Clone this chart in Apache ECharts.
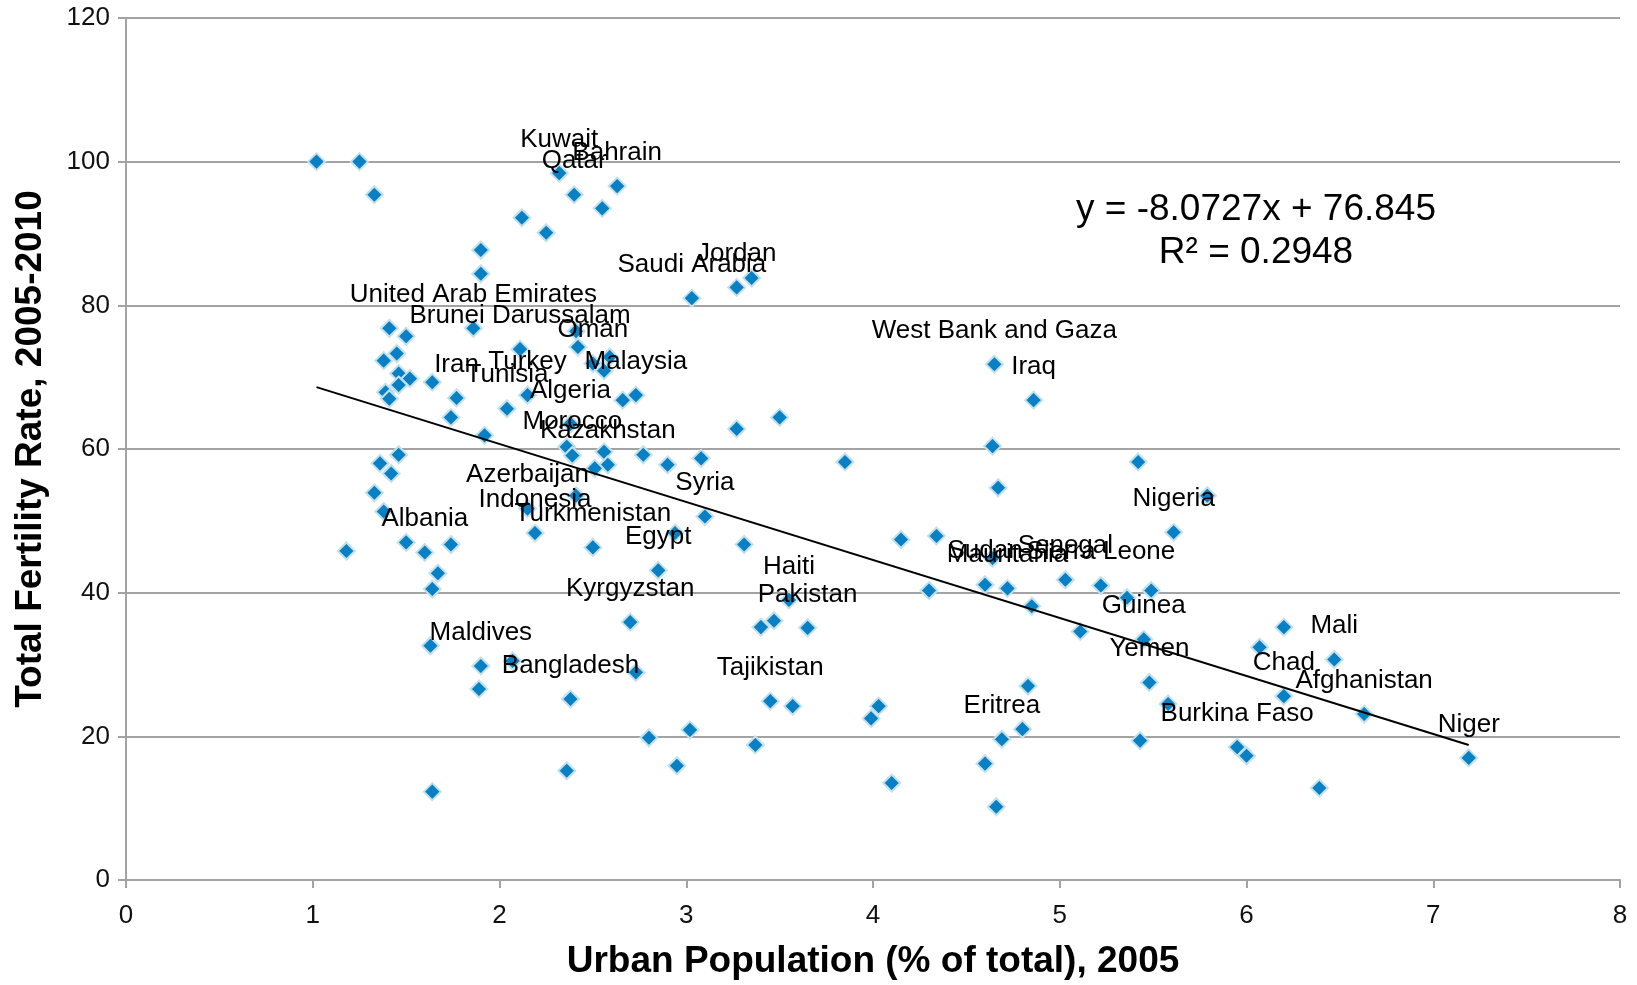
<!DOCTYPE html>
<html>
<head>
<meta charset="utf-8">
<title>Urban Population vs Total Fertility Rate</title>
<script src="https://cdn.jsdelivr.net/npm/echarts/dist/echarts.min.js"></script>
<style>
  html, body { margin: 0; padding: 0; background: #ffffff; }
  #chart { width: 1637px; height: 985px; }
</style>
</head>
<body>
<div id="chart"></div>
<script>
// Urban population (x) per country
const urbanPop = [
  1.02, 1.25, 1.33, 2.32, 2.63, 2.40, 2.55, 2.12, 2.25, 1.90,
  1.90, 3.03, 3.27, 3.35, 1.86, 1.41, 1.50, 2.11, 2.41, 2.42,
  2.50, 2.56, 2.59, 1.45, 1.38, 1.46, 1.52, 1.46, 1.39, 1.41,
  1.64, 1.77, 2.15, 2.04, 2.66, 2.73, 1.74, 1.92, 2.38, 2.36,
  2.39, 2.56, 2.58, 2.51, 2.77, 2.90, 3.08, 3.27, 3.50, 3.85,
  1.46, 1.36, 1.42, 1.33, 1.38, 1.18, 1.50, 1.60, 1.74, 1.67,
  1.64, 2.41, 2.15, 2.19, 2.50, 3.10, 2.94, 2.85, 3.31, 2.70,
  1.63, 1.90, 1.89, 2.07, 2.38, 2.73, 1.64, 2.80, 3.02, 2.36,
  2.95, 3.55, 3.40, 3.47, 3.65, 3.45, 3.57, 4.03, 3.99, 3.37,
  4.10, 4.15, 4.34, 4.30, 4.64, 4.60, 4.72, 4.65, 4.86, 4.64,
  4.67, 4.85, 5.03, 5.22, 5.11, 4.83, 4.69, 4.80, 4.60, 4.66,
  5.42, 5.61, 5.79, 5.36, 5.49, 5.45, 5.48, 5.58, 5.43, 5.95,
  6.00, 6.20, 6.07, 6.47, 6.20, 6.63, 6.39, 7.19
];

// Total fertility rate (y) per country
const fertility = [
  100.0, 100.0, 95.4, 98.4, 96.6, 95.4, 93.5, 92.2, 90.1, 87.7,
  84.4, 81.0, 82.5, 83.8, 76.8, 76.8, 75.7, 73.9, 76.4, 74.2,
  71.9, 70.9, 72.8, 73.3, 72.3, 70.5, 69.8, 68.9, 67.9, 67.0,
  69.3, 67.1, 67.5, 65.6, 66.8, 67.5, 64.4, 61.9, 63.5, 60.3,
  59.1, 59.6, 57.8, 57.3, 59.2, 57.8, 58.7, 62.8, 64.4, 58.2,
  59.2, 58.0, 56.6, 53.9, 51.3, 45.8, 47.0, 45.6, 46.7, 42.7,
  40.5, 53.5, 51.7, 48.3, 46.3, 50.6, 48.3, 43.1, 46.7, 35.9,
  32.6, 29.8, 26.6, 30.5, 25.2, 28.9, 12.3, 19.8, 20.9, 15.2,
  15.9, 39.0, 35.2, 36.1, 35.1, 24.9, 24.2, 24.2, 22.5, 18.8,
  13.5, 47.4, 47.9, 40.3, 44.8, 41.1, 40.6, 71.8, 66.8, 60.4,
  54.6, 38.1, 41.8, 41.0, 34.6, 27.0, 19.6, 21.0, 16.2, 10.2,
  58.2, 48.4, 53.5, 39.3, 40.3, 33.5, 27.5, 24.5, 19.4, 18.5,
  17.3, 35.2, 32.4, 30.7, 25.6, 23.1, 12.8, 17.0
];

// Country names (empty string = point drawn without a name)
const countries = [
  '', '', '', 'Kuwait', 'Bahrain', 'Qatar', '', '', '', '',
  '', 'Saudi Arabia', 'Jordan', '', 'United Arab Emirates', '', '', 'Brunei Darussalam', '', '',
  'Oman', '', '', '', '', '', '', '', '', '',
  '', 'Iran', 'Turkey', 'Tunisia', '', 'Malaysia', '', '', 'Algeria', '',
  'Morocco', '', 'Kazakhstan', '', '', '', '', '', '', '',
  '', '', '', '', '', '', '', 'Albania', '', '',
  '', '', 'Azerbaijan', 'Indonesia', 'Turkmenistan', 'Syria', '', 'Egypt', '', 'Kyrgyzstan',
  '', 'Maldives', '', '', 'Bangladesh', '', '', '', '', '',
  '', 'Haiti', '', '', 'Pakistan', 'Tajikistan', '', '', '', '',
  '', '', '', '', '', 'Sudan', 'Mauritania', 'West Bank and Gaza', 'Iraq', '',
  '', '', 'Senegal', 'Sierra Leone', '', '', 'Eritrea', '', '', '',
  '', 'Nigeria', '', '', '', 'Guinea', 'Yemen', '', '', 'Burkina Faso',
  '', '', '', 'Mali', 'Chad', 'Afghanistan', '', 'Niger'
];

// Linear trend fitted to the data
const trendSlope = -8.0727;
const trendIntercept = 76.845;
const rSquared = 0.2948;

// Axis ranges and tick steps
const xTicks = { min: 0, max: 8, step: 1 };
const yTicks = { min: 0, max: 120, step: 20 };

const FONT = '"Liberation Sans", Arial, Helvetica, sans-serif';
const GRID_GRAY = '#a3a3a3';

const points = urbanPop.map((x, i) => ({
  value: [x, fertility[i]],
  name: countries[i],
  label: { show: countries[i] !== '' }
}));

const xMin = Math.min(...urbanPop);
const xMax = Math.max(...urbanPop);
const trendPoints = [
  [xMin, trendSlope * xMin + trendIntercept],
  [xMax, trendSlope * xMax + trendIntercept]
];

const slopeText = (trendSlope < 0 ? '-' : '') + Math.abs(trendSlope).toFixed(4);
const equationText = 'y = ' + slopeText + 'x + ' + trendIntercept.toFixed(3) +
  '\nR\u00b2 = ' + rSquared.toFixed(4);

const chart = echarts.init(document.getElementById('chart'), null, { renderer: 'canvas' });

chart.setOption({
  animation: false,
  backgroundColor: '#ffffff',
  textStyle: { fontFamily: FONT },
  grid: { left: 126, right: 17, top: 18, bottom: 100, containLabel: false },
  xAxis: {
    type: 'value',
    min: xTicks.min, max: xTicks.max, interval: xTicks.step,
    name: 'Urban Population (% of total), 2005',
    nameLocation: 'middle',
    nameGap: 63,
    nameTextStyle: { fontFamily: FONT, fontSize: 37, fontWeight: 'bold', color: '#000' },
    axisLine: { show: true, lineStyle: { color: GRID_GRAY, width: 2 } },
    axisTick: { show: true, length: 8, lineStyle: { color: GRID_GRAY, width: 2 } },
    axisLabel: { fontFamily: FONT, fontSize: 26, color: '#111', margin: 23 },
    splitLine: { show: false }
  },
  yAxis: {
    type: 'value',
    min: yTicks.min, max: yTicks.max, interval: yTicks.step,
    name: 'Total Fertility Rate, 2005-2010',
    nameLocation: 'middle',
    nameRotate: 90,
    nameGap: 77,
    nameTextStyle: { fontFamily: FONT, fontSize: 37, fontWeight: 'bold', color: '#000' },
    axisLine: { show: true, lineStyle: { color: GRID_GRAY, width: 2 } },
    axisTick: { show: true, length: 8, lineStyle: { color: GRID_GRAY, width: 2 } },
    axisLabel: { fontFamily: FONT, fontSize: 26, color: '#111', margin: 16 },
    splitLine: { show: true, lineStyle: { color: GRID_GRAY, width: 2 } }
  },
  graphic: [{
    type: 'text',
    x: 1256,
    y: 231,
    z: 100,
    style: {
      text: equationText,
      fontFamily: FONT,
      fontSize: 37,
      lineHeight: 43,
      fill: '#000',
      align: 'center',
      verticalAlign: 'middle',
      textAlign: 'center',
      textVerticalAlign: 'middle'
    }
  }],
  series: [
    {
      name: 'Countries',
      type: 'scatter',
      symbol: 'diamond',
      symbolSize: 17,
      z: 2,
      itemStyle: {
        color: '#0a80c4',
        borderColor: '#c3e1ea',
        borderWidth: 2,
        opacity: 1
      },
      label: {
        show: false,
        position: 'top',
        distance: 11,
        formatter: '{b}',
        fontFamily: FONT,
        fontSize: 26,
        color: '#000'
      },
      data: points
    },
    {
      name: 'Linear trend',
      type: 'line',
      symbol: 'none',
      z: 3,
      silent: true,
      lineStyle: { color: '#000', width: 2 },
      data: trendPoints
    }
  ]
});
</script>
</body>
</html>
